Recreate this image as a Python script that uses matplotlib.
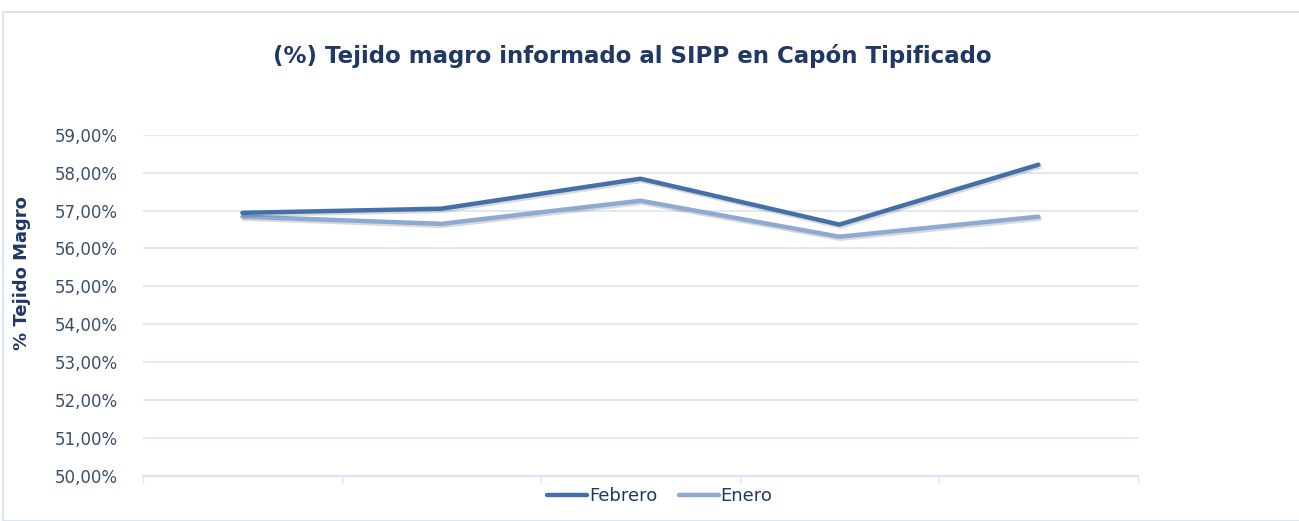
import matplotlib.pyplot as plt
import matplotlib.patheffects as pe
from matplotlib.ticker import FuncFormatter, FixedLocator
from matplotlib.patches import Rectangle

# data (one point per category, no category labels shown)
categories = ["", "", "", "", ""]
febrero = [56.94, 57.05, 57.84, 56.63, 58.21]
enero = [56.84, 56.65, 57.26, 56.31, 56.84]

text_color = "#1F3864"
tick_color = "#3B4E6B"
grid_color = "#D9E5F4"

fig = plt.figure(figsize=(12.99, 5.21), dpi=100)
ax = fig.add_axes([0.110, 0.0864, 0.766, 0.655])

# outer chart border
fig.patches.append(Rectangle((0.002, 0.0), 1.2, 0.977, transform=fig.transFigure,
                             fill=False, edgecolor="#D6E2F0", linewidth=1.2))

x = list(range(len(categories)))
shadow = [pe.SimpleLineShadow(offset=(1, -1.5), shadow_color="#000000", alpha=0.15), pe.Normal()]
ax.plot(x, febrero, color="#4470A8", linewidth=3.2, solid_capstyle="round",
        label="Febrero", path_effects=shadow, zorder=3)
ax.plot(x, enero, color="#8EA9D2", linewidth=3.2, solid_capstyle="round",
        label="Enero", path_effects=shadow, zorder=2)

ax.set_xlim(-0.5, len(categories) - 0.5)
ax.set_ylim(50, 59)
ax.set_yticks(range(50, 60))
ax.yaxis.set_major_formatter(FuncFormatter(lambda v, p: f"{v:.2f}".replace(".", ",") + "%"))
ax.set_xticks(x)
ax.set_xticklabels(categories)
ax.xaxis.set_minor_locator(FixedLocator([i - 0.5 for i in range(len(categories) + 1)]))
ax.tick_params(axis="x", which="major", length=0)
ax.tick_params(axis="x", which="minor", length=5, color=grid_color, width=1)
ax.tick_params(axis="y", length=0, labelsize=12, labelcolor=tick_color, pad=18)

ax.grid(axis="y", color=grid_color, linewidth=1.2)
ax.set_axisbelow(True)
for s in ["top", "right", "left"]:
    ax.spines[s].set_visible(False)
ax.spines["bottom"].set_color(grid_color)
ax.spines["bottom"].set_linewidth(1.5)

ax.set_ylabel("% Tejido Magro", fontsize=13, fontweight="bold", color=text_color)
ax.yaxis.set_label_coords(-0.112, 0.595)
fig.text(0.487, 0.893, "(%) Tejido magro informado al SIPP en Capón Tipificado",
         ha="center", va="center", fontsize=16.5, fontweight="bold", color=text_color)

leg = fig.legend(loc="center", bbox_to_anchor=(0.508, 0.048), ncol=2, frameon=False,
                 fontsize=13, handlelength=2.2, handletextpad=0.1, columnspacing=1.2)
for t in leg.get_texts():
    t.set_color(text_color)
for h in leg.get_lines():
    h.set_path_effects([])

fig.savefig("out.png", dpi=100)
